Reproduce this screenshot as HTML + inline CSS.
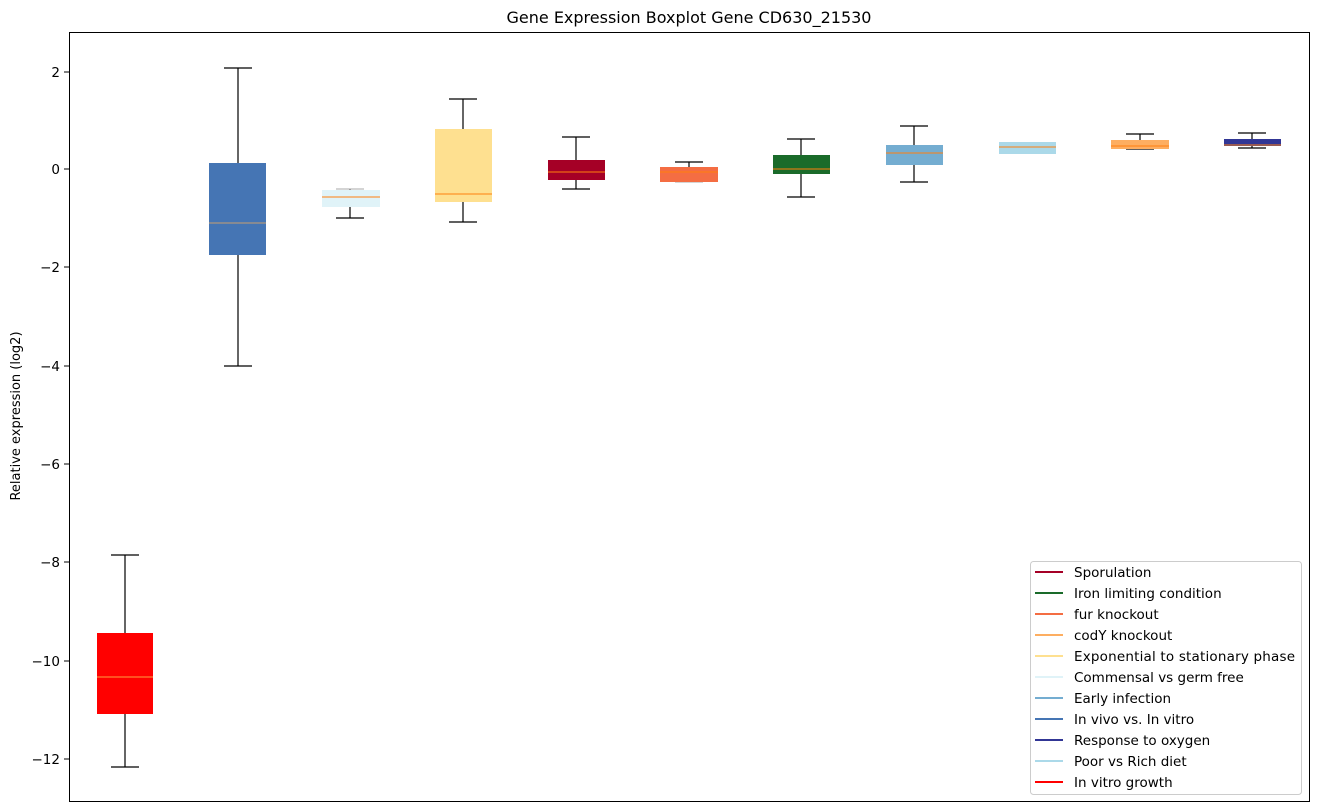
<!DOCTYPE html>
<html><head><meta charset="utf-8"><style>body{margin:0;background:#fff}svg{display:block;font-family:"DejaVu Sans","Liberation Sans",sans-serif}</style></head><body>
<svg width="1318" height="812" xmlns="http://www.w3.org/2000/svg">
<rect width="1318" height="812" fill="#fff"/>
<text x="689" y="23" font-size="16" text-anchor="middle">Gene Expression Boxplot Gene CD630_21530</text>
<g font-size="13.5" text-anchor="end">
<line x1="64" x2="69" y1="72" y2="72" stroke="#000"/><text x="60" y="77">2</text>
<line x1="64" x2="69" y1="169" y2="169" stroke="#000"/><text x="60" y="174">0</text>
<line x1="64" x2="69" y1="267" y2="267" stroke="#000"/><text x="60" y="272">−2</text>
<line x1="64" x2="69" y1="366" y2="366" stroke="#000"/><text x="60" y="371">−4</text>
<line x1="64" x2="69" y1="464" y2="464" stroke="#000"/><text x="60" y="469">−6</text>
<line x1="64" x2="69" y1="562" y2="562" stroke="#000"/><text x="60" y="567">−8</text>
<line x1="64" x2="69" y1="661" y2="661" stroke="#000"/><text x="60" y="666">−10</text>
<line x1="64" x2="69" y1="759" y2="759" stroke="#000"/><text x="60" y="764">−12</text>
</g>
<text transform="translate(20,416) rotate(-90)" font-size="13" text-anchor="middle">Relative expression (log2)</text>
<g stroke="#000" stroke-width="1.2">
<line x1="125" x2="125" y1="555" y2="767"/><line x1="111" x2="139" y1="555" y2="555"/><line x1="111" x2="139" y1="767" y2="767"/>
<rect x="97" y="633" width="56" height="81" fill="#ff0000" stroke="none"/><line x1="97" x2="153" y1="677" y2="677" stroke="#ff9f3f" stroke-width="1"/>
<line x1="238" x2="238" y1="68" y2="366"/><line x1="224" x2="252" y1="68" y2="68"/><line x1="224" x2="252" y1="366" y2="366"/>
<rect x="209" y="163" width="57" height="92" fill="#4575b4" stroke="none"/><line x1="209" x2="266" y1="223" y2="223" stroke="#c8a070" stroke-width="1"/>
<line x1="350" x2="350" y1="189" y2="218"/><line x1="336" x2="364" y1="189" y2="189" stroke="#bbb"/><line x1="336" x2="364" y1="218" y2="218"/>
<rect x="322" y="190" width="58" height="17" fill="#e0f3f8" stroke="none"/><line x1="322" x2="380" y1="197" y2="197" stroke="#ff7f0e" stroke-width="1"/>
<line x1="463" x2="463" y1="99" y2="222"/><line x1="449" x2="477" y1="99" y2="99"/><line x1="449" x2="477" y1="222" y2="222"/>
<rect x="435" y="129" width="57" height="73" fill="#fee090" stroke="none"/><line x1="435" x2="492" y1="194" y2="194" stroke="#ff7f0e" stroke-width="1"/>
<line x1="576" x2="576" y1="137" y2="189"/><line x1="562" x2="590" y1="137" y2="137"/><line x1="562" x2="590" y1="189" y2="189"/>
<rect x="548" y="160" width="57" height="20" fill="#a50026" stroke="none"/><line x1="548" x2="605" y1="172" y2="172" stroke="#ff7f0e" stroke-width="1"/>
<line x1="689" x2="689" y1="162" y2="167"/><line x1="675" x2="703" y1="162" y2="162"/><line x1="675" x2="703" y1="182" y2="182" stroke="#bbb"/>
<rect x="660" y="167" width="58" height="15" fill="#f46d43" stroke="none"/><line x1="660" x2="718" y1="172" y2="172" stroke="#ff7f0e" stroke-width="1"/>
<line x1="801" x2="801" y1="139" y2="197"/><line x1="787" x2="815" y1="139" y2="139"/><line x1="787" x2="815" y1="197" y2="197"/>
<rect x="773" y="155" width="57" height="19" fill="#1a6b2a" stroke="none"/><line x1="773" x2="830" y1="169" y2="169" stroke="#ff7f0e" stroke-width="1"/>
<line x1="914" x2="914" y1="126" y2="182"/><line x1="900" x2="928" y1="126" y2="126"/><line x1="900" x2="928" y1="182" y2="182"/>
<rect x="886" y="145" width="57" height="20" fill="#74add1" stroke="none"/><line x1="886" x2="943" y1="153" y2="153" stroke="#ff7f0e" stroke-width="1"/>
<rect x="999" y="142" width="57" height="12" fill="#abd9e9" stroke="none"/><line x1="999" x2="1056" y1="147" y2="147" stroke="#ff7f0e" stroke-width="1"/>
<line x1="1140" x2="1140" y1="134" y2="149"/><line x1="1126" x2="1154" y1="134" y2="134"/><line x1="1126" x2="1154" y1="149" y2="149"/>
<rect x="1111" y="140" width="58" height="9" fill="#fdae61" stroke="none"/><line x1="1111" x2="1169" y1="146" y2="146" stroke="#ff7f0e" stroke-width="1"/>
<line x1="1252" x2="1252" y1="133" y2="148"/><line x1="1238" x2="1266" y1="133" y2="133"/><line x1="1238" x2="1266" y1="148" y2="148"/>
<rect x="1224" y="139" width="57" height="7" fill="#313695" stroke="none"/><line x1="1224" x2="1281" y1="145" y2="145" stroke="#ff7f0e" stroke-width="1"/>
</g>
<rect x="69.5" y="32.5" width="1240" height="769" fill="none" stroke="#000" stroke-width="1"/>
<g font-size="13.5">
<rect x="1030.5" y="561.5" width="271" height="233" rx="3" fill="#fff" stroke="#ccc"/>
<g stroke-width="2">
<line x1="1035" x2="1063" y1="572" y2="572" stroke="#a50026"/>
<line x1="1035" x2="1063" y1="593" y2="593" stroke="#1a6b2a"/>
<line x1="1035" x2="1063" y1="614" y2="614" stroke="#f46d43"/>
<line x1="1035" x2="1063" y1="635" y2="635" stroke="#fdae61"/>
<line x1="1035" x2="1063" y1="656" y2="656" stroke="#fee090"/>
<line x1="1035" x2="1063" y1="677" y2="677" stroke="#e0f3f8"/>
<line x1="1035" x2="1063" y1="698" y2="698" stroke="#74add1"/>
<line x1="1035" x2="1063" y1="719" y2="719" stroke="#4575b4"/>
<line x1="1035" x2="1063" y1="740" y2="740" stroke="#313695"/>
<line x1="1035" x2="1063" y1="761" y2="761" stroke="#abd9e9"/>
<line x1="1035" x2="1063" y1="782" y2="782" stroke="#ff0000"/>
</g>
<text x="1074" y="577">Sporulation</text>
<text x="1074" y="598">Iron limiting condition</text>
<text x="1074" y="619">fur knockout</text>
<text x="1074" y="640">codY knockout</text>
<text x="1074" y="661" textLength="221">Exponential to stationary phase</text>
<text x="1074" y="682">Commensal vs germ free</text>
<text x="1074" y="703">Early infection</text>
<text x="1074" y="724">In vivo vs. In vitro</text>
<text x="1074" y="745">Response to oxygen</text>
<text x="1074" y="766">Poor vs Rich diet</text>
<text x="1074" y="787">In vitro growth</text>
</g>
</svg>
</body></html>
